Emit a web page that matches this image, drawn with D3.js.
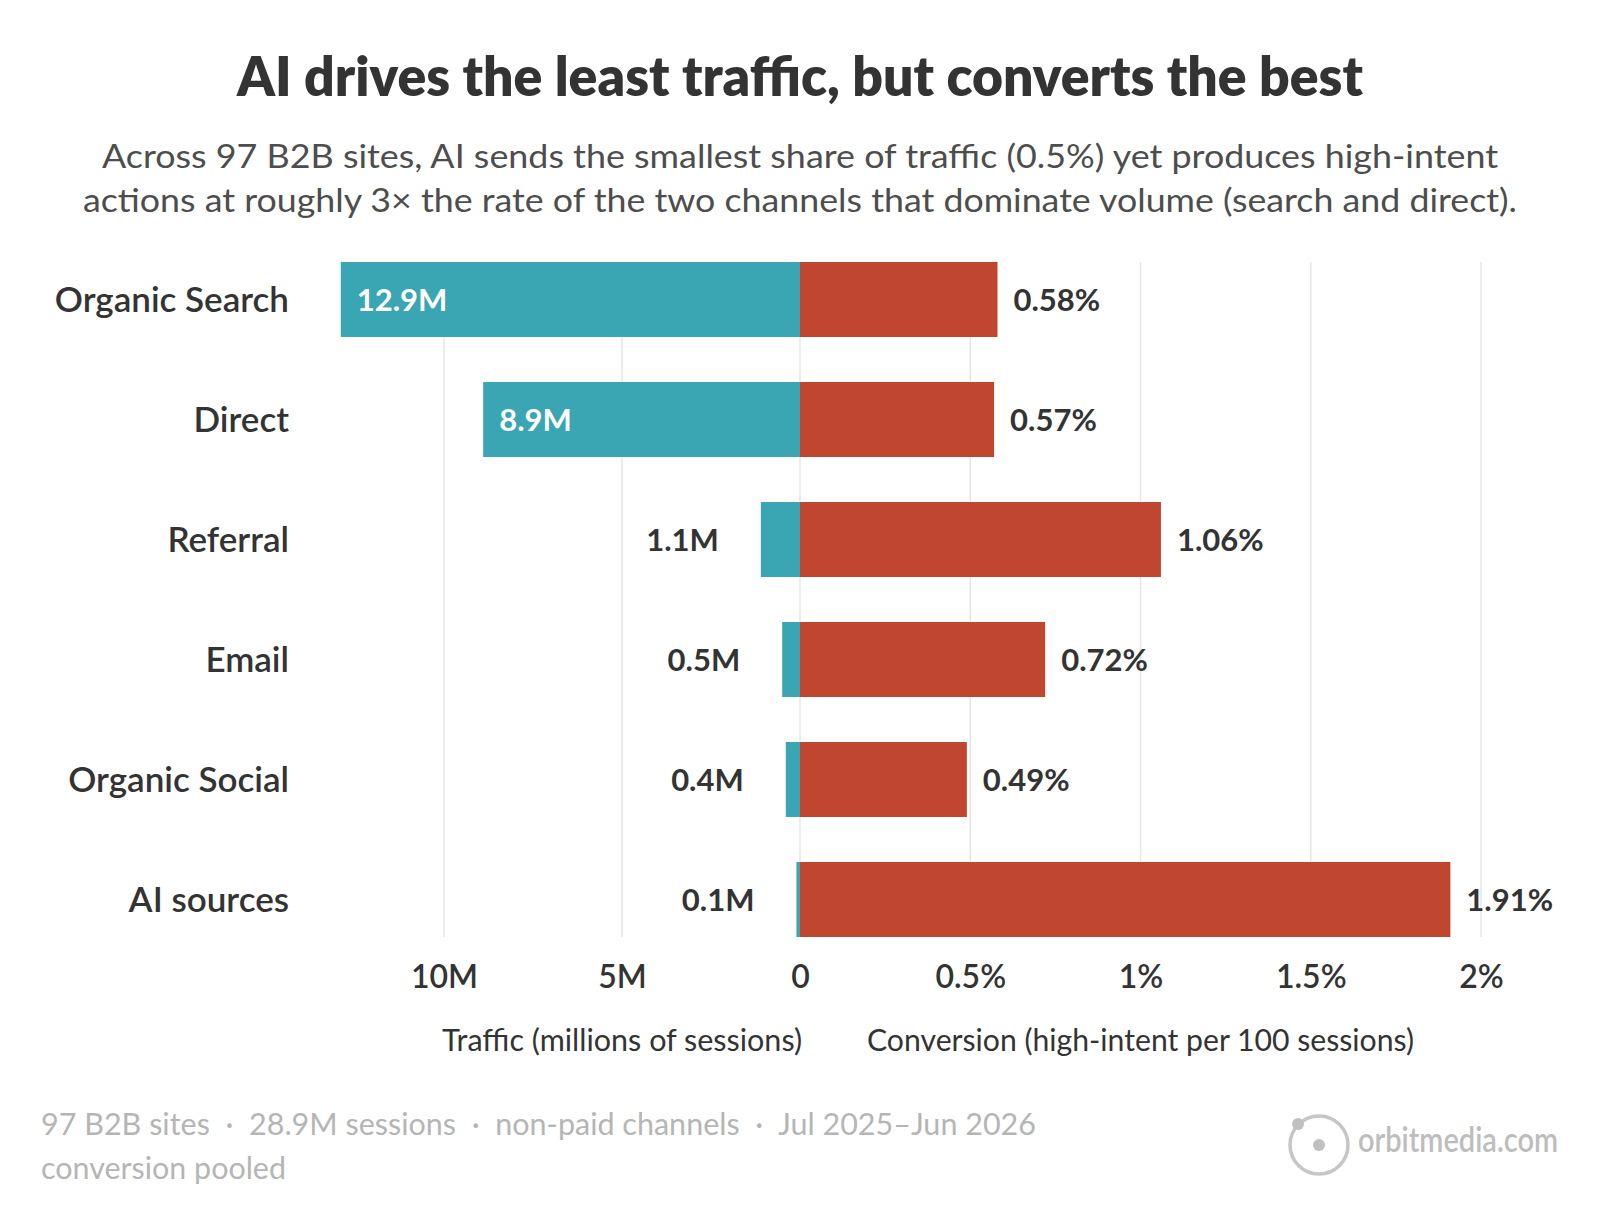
<!DOCTYPE html>
<html>
<head>
<meta charset="utf-8">
<script src="https://cdn.jsdelivr.net/npm/d3@7"></script>
<style>
  html, body { margin: 0; padding: 0; background: #fff; }
  svg text { font-family: Lato, "Open Sans", sans-serif; white-space: pre; }
</style>
</head>
<body>
<div id="chart"></div>
<script>
// 数据
const channels = ['Organic Search', 'Direct', 'Referral', 'Email', 'Organic Social', 'AI sources'];
const trafficM = [12.9, 8.9, 1.1, 0.5, 0.4, 0.1];
const conversionPct = [0.58, 0.57, 1.06, 0.72, 0.49, 1.91];
const trafficTicks = [10, 5, 0];
const conversionTicks = [0.5, 1, 1.5, 2];

const titleText = 'AI drives the least traffic, but converts the best';
const subtitleLines = [
    'Across 97 B2B sites, AI sends the smallest share of traffic (0.5%) yet produces high-intent',
    'actions at roughly 3\u00d7 the rate of the two channels that dominate volume (search and direct).'
];
const footerLines = [
    '97 B2B sites  \u00b7  28.9M sessions  \u00b7  non-paid channels  \u00b7  Jul 2025\u2013Jun 2026',
    'conversion pooled'
];

const width = 1600, height = 1230;
const teal = '#3aa6b3';
const red = '#c0462f';
const dark = '#333333';

const svg = d3.select('#chart').append('svg')
    .attr('width', width)
    .attr('height', height);

// 比例尺
const xL = d3.scaleLinear().domain([0, 10]).range([800, 444]);
const xR = d3.scaleLinear().domain([0, 2]).range([800, 1481]);
const y = d3.scaleBand().domain(channels).range([239.5, 959.5])
    .paddingInner(0.375).paddingOuter(0.1875);

const gridTop = y(channels[0]);
const gridBottom = y(channels[channels.length - 1]) + y.bandwidth();

// 标题
svg.append('text')
    .attr('x', 800).attr('y', 96)
    .attr('text-anchor', 'middle')
    .attr('font-size', 55).attr('font-weight', 800)
    .attr('fill', dark)
    .attr('textLength', 1126).attr('lengthAdjust', 'spacingAndGlyphs')
    .text(titleText);

const subLens = [1396, 1434];
svg.append('g').selectAll('text')
    .data(subtitleLines)
    .enter().append('text')
    .attr('x', 800).attr('y', (d, i) => 168 + i * 44)
    .attr('text-anchor', 'middle')
    .attr('font-size', 32)
    .attr('fill', '#4d4d4d')
    .attr('textLength', (d, i) => subLens[i]).attr('lengthAdjust', 'spacingAndGlyphs')
    .text(d => d);

// 网格线
const grid = svg.append('g');
grid.selectAll('line.l')
    .data(trafficTicks)
    .enter().append('line')
    .attr('x1', d => xL(d)).attr('x2', d => xL(d))
    .attr('y1', gridTop).attr('y2', gridBottom)
    .attr('stroke', '#e6e6e6').attr('stroke-width', 1.5);
grid.selectAll('line.r')
    .data(conversionTicks)
    .enter().append('line')
    .attr('x1', d => xR(d)).attr('x2', d => xR(d))
    .attr('y1', gridTop).attr('y2', gridBottom)
    .attr('stroke', '#e6e6e6').attr('stroke-width', 1.5);

const rows = channels.map((c, i) => ({ name: c, traffic: trafficM[i], conv: conversionPct[i] }));

// 流量条（左）
svg.append('g').selectAll('rect')
    .data(rows)
    .enter().append('rect')
    .attr('x', d => xL(d.traffic))
    .attr('y', d => y(d.name))
    .attr('width', d => xL(0) - xL(d.traffic))
    .attr('height', y.bandwidth())
    .attr('fill', teal);

// 转化条（右）
svg.append('g').selectAll('rect')
    .data(rows)
    .enter().append('rect')
    .attr('x', xR(0))
    .attr('y', d => y(d.name))
    .attr('width', d => xR(d.conv) - xR(0))
    .attr('height', y.bandwidth())
    .attr('fill', red);

// 类别标签
svg.append('g').selectAll('text')
    .data(rows)
    .enter().append('text')
    .attr('x', 289)
    .attr('y', d => y(d.name) + y.bandwidth() / 2)
    .attr('dy', '0.36em')
    .attr('text-anchor', 'end')
    .attr('font-size', 35).attr('font-weight', 600)
    .attr('fill', dark)
    .text(d => d.name);

// 流量数值
const isInside = d => xL(0) - xL(d.traffic) > 150;
svg.append('g').selectAll('text')
    .data(rows)
    .enter().append('text')
    .attr('x', d => isInside(d) ? xL(d.traffic) + 16 : xL(d.traffic) - 42)
    .attr('y', d => y(d.name) + y.bandwidth() / 2)
    .attr('dy', '0.36em')
    .attr('text-anchor', d => isInside(d) ? 'start' : 'end')
    .attr('font-size', 31).attr('font-weight', 700)
    .attr('fill', d => isInside(d) ? '#fff' : dark)
    .text(d => d.traffic + 'M');

// 转化数值
svg.append('g').selectAll('text')
    .data(rows)
    .enter().append('text')
    .attr('x', d => xR(d.conv) + 16)
    .attr('y', d => y(d.name) + y.bandwidth() / 2)
    .attr('dy', '0.36em')
    .attr('font-size', 31).attr('font-weight', 700)
    .attr('fill', dark)
    .text(d => d.conv.toFixed(2) + '%');

// 坐标轴
function styleAxis(g) {
    g.select('.domain').remove();
    g.selectAll('.tick line').remove();
    g.selectAll('.tick text')
        .attr('y', 0).attr('dy', 0)
        .attr('font-size', 32).attr('font-weight', 600)
        .attr('font-family', 'Lato, sans-serif')
        .attr('fill', dark);
}
svg.append('g')
    .attr('transform', 'translate(0,988)')
    .call(d3.axisBottom(xL).tickValues(trafficTicks).tickSize(0)
        .tickFormat(d => d === 0 ? '0' : d + 'M'))
    .call(styleAxis);
svg.append('g')
    .attr('transform', 'translate(0,988)')
    .call(d3.axisBottom(xR).tickValues(conversionTicks).tickSize(0)
        .tickFormat(d => d + '%'))
    .call(styleAxis);

// 坐标轴标题
svg.append('text')
    .attr('x', xL(5)).attr('y', 1051)
    .attr('text-anchor', 'middle')
    .attr('font-size', 30.5).attr('fill', dark)
    .text('Traffic (millions of sessions)');
svg.append('text')
    .attr('x', xR(1)).attr('y', 1051)
    .attr('text-anchor', 'middle')
    .attr('font-size', 30.5).attr('fill', dark)
    .attr('textLength', 547).attr('lengthAdjust', 'spacingAndGlyphs')
    .text('Conversion (high-intent per 100 sessions)');

// 脚注
const footLens = [995, 245];
svg.append('g').selectAll('text')
    .data(footerLines)
    .enter().append('text')
    .attr('x', 41).attr('y', (d, i) => 1135 + i * 44)
    .attr('font-size', 30.5)
    .attr('fill', '#b5b5b5')
    .attr('textLength', (d, i) => footLens[i]).attr('lengthAdjust', 'spacingAndGlyphs')
    .text(d => d);

// 标志
const logo = svg.append('g').attr('transform', 'translate(1319,1145)');
logo.append('circle').attr('r', 29)
    .attr('fill', 'none').attr('stroke', '#c6c6c6').attr('stroke-width', 3.5);
logo.append('circle').attr('r', 6).attr('fill', '#c0c0c0');
logo.append('circle').attr('cx', -21).attr('cy', -21).attr('r', 6).attr('fill', '#c0c0c0');
svg.append('text')
    .attr('x', 1358).attr('y', 1152)
    .attr('font-size', 34).attr('font-weight', 600)
    .attr('fill', '#bdbdbd')
    .attr('textLength', 200).attr('lengthAdjust', 'spacingAndGlyphs')
    .text('orbitmedia.com');
</script>
</body>
</html>
